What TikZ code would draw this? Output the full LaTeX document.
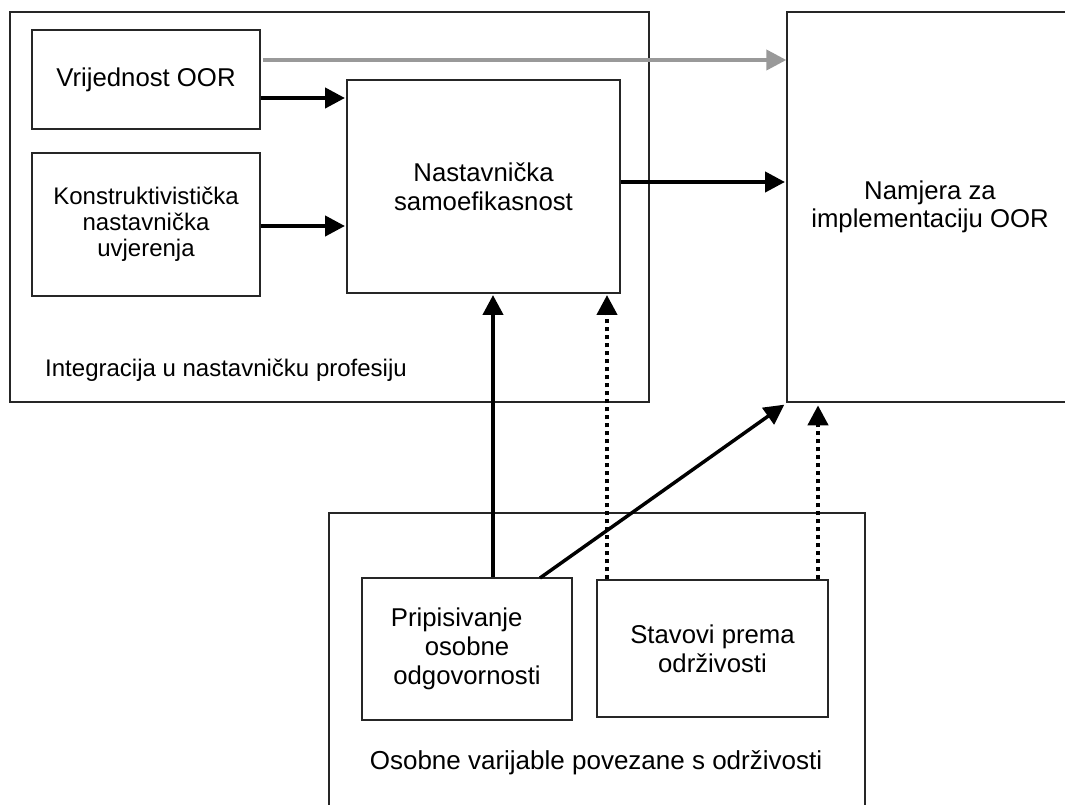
\documentclass[tikz,border=0pt]{standalone}
\usepackage{fontspec}
\setmainfont{Liberation Sans}
\usetikzlibrary{arrows.meta,calc}
\begin{document}
\begin{tikzpicture}[x=0.75pt,y=-0.75pt,
  box/.style={draw=black!85,line width=1pt,rectangle,inner sep=0pt,align=center,
    font=\fontsize{19.3}{21.5}\selectfont},
  lbl/.style={inner sep=0pt,font=\fontsize{19.3}{21.5}\selectfont},
  tip/.style={-{Triangle[length=15pt,width=15pt]}},
  arr/.style={tip,line width=3.2pt,draw=black},
  garr/.style={tip,line width=3pt,draw=black!40,color=black!40},
  dot/.style={tip,line width=3.2pt,dash pattern=on 3pt off 3pt}
]
\useasboundingbox (0,0) rectangle (1065,805);
\begin{scope}
\clip (0,0) rectangle (1065,805);
% outer groups
\node[box,minimum width=639*0.75pt,minimum height=390*0.75pt] (grpA) at (329.5,207) {};
\node[box,minimum width=536*0.75pt,minimum height=327*0.75pt] (grpB) at (597,676.5) {};
\node[lbl,font=\fontsize{18}{20}\selectfont] (labA) at (226,370) {Integracija u nastavničku profesiju};
\node[lbl,font=\fontsize{19.5}{21.5}\selectfont] (labB) at (596,763) {Osobne varijable povezane s održivosti};
% boxes
\node[box,minimum width=228*0.75pt,minimum height=99*0.75pt] (vri) at (146,79.5) {Vrijednost OOR};
\node[box,minimum width=228*0.75pt,minimum height=143*0.75pt,font=\fontsize{18}{19.5}\selectfont] (kon) at (146,224.5) {Konstruktivistička\\nastavnička\\uvjerenja};
\node[box,minimum width=273*0.75pt,minimum height=213*0.75pt] (nas) at (483.5,186.5) {Nastavnička\\samoefikasnost};
\node[box,minimum width=286*0.75pt,minimum height=390*0.75pt] (nam) at (930,207) {Namjera za\\implementaciju OOR};
\node[box,minimum width=210*0.75pt,minimum height=142*0.75pt] (pri) at (467,649) {Pripisivanje\hspace*{0.8em}\\osobne\\odgovornosti};
\node[box,minimum width=231*0.75pt,minimum height=137*0.75pt] (sta) at (712.5,648.5) {Stavovi prema\\održivosti};
% reference rows / columns
\coordinate (rowV) at (0,98);
\coordinate (rowK) at (0,226);
\coordinate (rowN) at (0,182);
\coordinate (colP) at (493,0);
\coordinate (colD) at (607,0);
\coordinate (colE) at (818,0);
\coordinate (diagS) at (540,578);
\coordinate (gstart) at (263,60);
% connectors
\draw[garr] (gstart) -- (gstart -| nam.west);
\draw[arr] (vri.east |- rowV) -- ([xshift=-1pt]nas.west |- rowV);
\draw[arr] (kon.east |- rowK) -- ([xshift=-1pt]nas.west |- rowK);
\draw[arr] (nas.east |- rowN) -- ([xshift=-1pt]nam.west |- rowN);
\draw[arr] (pri.north -| colP) -- ([yshift=-1pt]nas.south -| colP);
\draw[dot] (sta.north -| colD) -- ([yshift=-1pt]nas.south -| colD);
\draw[dot] (sta.north -| colE) -- ([yshift=-2pt]nam.south -| colE);
\draw[arr,line width=2.6pt] (diagS) -- ([shift={(-2,2)}]nam.south west);
\end{scope}
\end{tikzpicture}
\end{document}
